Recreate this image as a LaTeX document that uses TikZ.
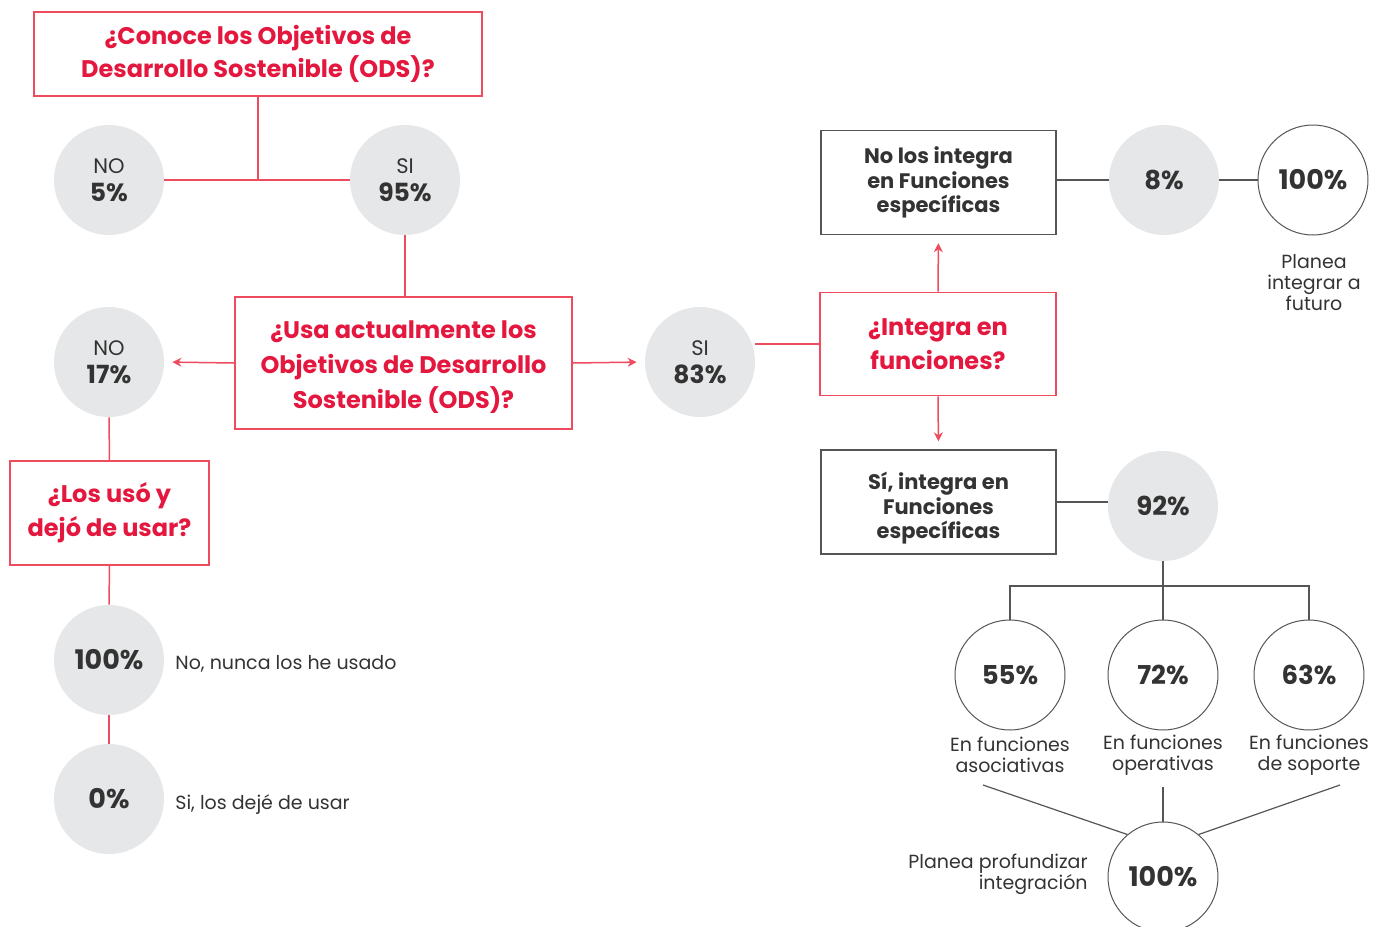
\documentclass[tikz,border=0pt]{standalone}
\usepackage{fontspec}
\setmainfont{Poppins}
\usetikzlibrary{arrows.meta}
\definecolor{boxred}{HTML}{EE4B5E}
\definecolor{txtred}{HTML}{E4173E}
\definecolor{linered}{HTML}{EE4B5E}
\definecolor{txtdark}{HTML}{333333}
\definecolor{greyline}{HTML}{555555}
\definecolor{circgrey}{HTML}{E6E7E8}
\tikzset{
  redbox/.style={draw=boxred, line width=0.8pt, fill=white, text=txtred, align=center, inner sep=0pt,
    font=\bfseries\fontsize{12}{17}\selectfont},
  greybox/.style={draw=greyline, line width=0.7pt, fill=white, text=txtdark, align=center, inner sep=0pt,
    minimum width=117.5pt, minimum height=52pt, font=\bfseries\fontsize{10.5}{12.25}\selectfont},
  gcirc/.style={circle, fill=circgrey, minimum size=55pt, inner sep=0pt, text=txtdark, align=center,
    font=\fontsize{10.5}{14}\selectfont},
  bignum/.style={font=\bfseries\fontsize{13.5}{14}\selectfont},
  wcirc/.style={circle, draw=greyline, line width=0.5pt, fill=white, minimum size=55pt, inner sep=0pt,
    text=txtdark, align=center, font=\bfseries\fontsize{13}{14}\selectfont},
  lbl/.style={text=txtdark, align=center, inner sep=0pt, font=\fontsize{9.5}{10.5}\selectfont},
  rline/.style={draw=linered, line width=0.75pt},
  rarrow/.style={draw=linered, line width=0.75pt, -{Stealth[length=4.5pt,width=4.5pt]}, shorten >=4pt},
  gline/.style={draw=greyline, line width=0.6pt},
}
\newcommand{\pct}[1]{{\bfseries\fontsize{12.5}{14}\selectfont #1}}
\begin{document}
\begin{tikzpicture}[x=0.5pt,y=-0.5pt]
\useasboundingbox (0,0) rectangle (1373,927);
% boxes
\node[redbox, minimum width=224pt, minimum height=42pt, font=\bfseries\fontsize{12}{16.5}\selectfont] (q1) at (258,54) {¿Conoce los Objetivos de\\Desarrollo Sostenible (ODS)?};
\node[redbox, minimum width=168.5pt, minimum height=66pt, font=\bfseries\fontsize{12}{17.5}\selectfont] (q2) at (403.5,363) {\rule{0pt}{13pt}¿Usa actualmente los\\Objetivos de Desarrollo\\Sostenible (ODS)?};
\node[redbox, minimum width=118pt, minimum height=51.5pt] (q3) at (938,344) {¿Integra en\\funciones?};
\node[redbox, minimum width=99.5pt, minimum height=52pt] (q4) at (109.5,513) {¿Los usó y\\dejó de usar?};
\node[greybox] (b1) at (938.5,182.5) {No los integra\\en Funciones\\específicas};
\node[greybox] (b2) at (938.5,502) {\rule{0pt}{15pt}Sí, integra en\\Funciones\\específicas};
% circles
\node[gcirc] (no5) at (109,180) {NO\\\pct{5\%}};
\node[gcirc] (si95) at (405,180) {SI\\\pct{95\%}};
\node[gcirc] (no17) at (109,362) {NO\\\pct{17\%}};
\node[gcirc] (si83) at (700,362) {SI\\\pct{83\%}};
\node[gcirc, bignum] (c100a) at (109,660) {100\%};
\node[gcirc, bignum] (c0) at (109,799) {0\%};
\node[gcirc, font=\bfseries\fontsize{13}{14}\selectfont] (c8) at (1164,180) {8\%};
\node[wcirc, bignum] (c100b) at (1313,180) {100\%};
\node[gcirc, font=\bfseries\fontsize{13}{14}\selectfont] (c92) at (1163,506) {92\%};
\node[wcirc] (c55) at (1010,675) {55\%};
\node[wcirc] (c72) at (1163,675) {72\%};
\node[wcirc] (c63) at (1309,675) {63\%};
\node[wcirc, bignum] (c100c) at (1163,877) {100\%};
% labels
\node[lbl, anchor=west] (l1) at (175,664) {No, nunca los he usado};
\node[lbl, anchor=west] (l2) at (175,805) {Si, los dejé de usar};
\node[lbl] (l3) at (1314,283) {Planea\\integrar a\\futuro};
\node[lbl] (l4) at (1010,755) {En funciones\\asociativas};
\node[lbl] (l5) at (1163,755) {En funciones\\operativas};
\node[lbl] (l6) at (1309,755) {En funciones\\de soporte};
\node[lbl, align=right, anchor=east] (l7) at (1088,874) {Planea profundizar\\integración};
% coordinates
\coordinate (j1) at (258,179);
\coordinate (j2) at (1163,586);
\coordinate (e1) at (983,785);
\coordinate (e2) at (1163,787);
\coordinate (e3) at (1340,785);
% red connectors
\draw[rline] (q1.south) -- (j1);
\draw[rline] (no5.east) -- (si95.west);
\draw[rline] (si95.south) -- (si95.south |- q2.north);
\draw[rarrow] (q2.west) -- (no17.east);
\draw[rarrow] (q2.east) -- (si83.west);
\draw[rline] (q3.west) -- (q3.west -| si83.east);
\draw[rarrow] (q3.north) -- (b1.south);
\draw[rarrow] (q3.south) -- (b2.north);
\draw[rline] (no17.south) -- (q4.north);
\draw[rline] (q4.south) -- (c100a.north);
\draw[rline] (c100a.south) -- (c0.north);
% grey connectors
\draw[gline] (b1.east |- c8.west) -- (c8.west);
\draw[gline] (c8.east) -- (c100b.west);
\draw[gline] (b2.east) -- (b2.east -| c92.west);
\draw[gline] (c92.south) -- (j2);
\draw[gline] (c55.north) |- (j2) -| (c63.north);
\draw[gline] (j2) -- (c72.north);
\draw[gline] (e1) -- (c100c.130);
\draw[gline] (e2) -- (c100c.north);
\draw[gline] (e3) -- (c100c.50);
\end{tikzpicture}
\end{document}
